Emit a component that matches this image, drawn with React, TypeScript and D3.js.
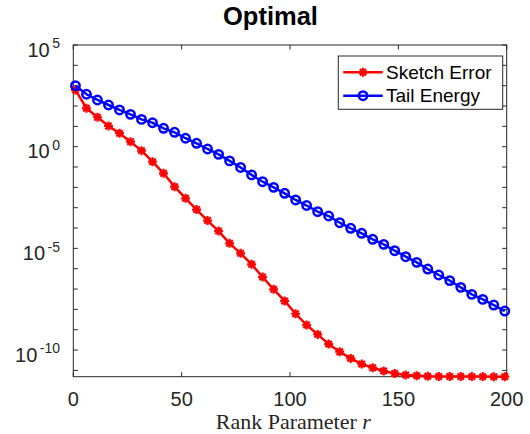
import React from "react";
import * as d3 from "d3";

// ---- data ----
const rankParams: number[] = d3.range(40).map((i) => 1 + i * 5.08);

const sketchError: number[] = [
  6.2e2, 77, 28, 10.4, 4.6, 1.76, 0.64, 0.183, 0.049, 0.0108,
  2.9e-3, 8.1e-4, 2.34e-4, 7.1e-5, 1.77e-5, 5.7e-6, 1.64e-6, 3.9e-7, 9.7e-8, 2.6e-8,
  6.1e-9, 1.7e-9, 5.9e-10, 1.97e-10, 8.3e-11, 3.9e-11, 2.04e-11, 1.35e-11, 9.3e-12, 7.1e-12,
  5.9e-12, 5.5e-12, 5.1e-12, 5.0e-12, 5.0e-12, 5.0e-12, 4.95e-12, 4.95e-12, 4.9e-12, 4.9e-12,
];

const tailEnergy: number[] = [
  1.0e3, 3.78e2, 1.98e2, 1.12e2, 6.4e1, 3.9e1, 2.2e1, 1.5e1, 8.0, 5.1,
  2.6, 1.47, 0.77, 0.42, 0.2, 0.095, 0.041, 0.019, 0.01, 5.1e-3,
  2.4e-3, 1.28e-3, 6.4e-4, 3.9e-4, 1.83e-4, 9.7e-5, 5.5e-5, 2.8e-5, 1.58e-5, 7.7e-6,
  3.9e-6, 2.06e-6, 9.6e-7, 4.9e-7, 2.6e-7, 1.21e-7, 5.5e-8, 3.1e-8, 1.63e-8, 8.3e-9,
];

const xTicks: number[] = [0, 50, 100, 150, 200];
const yLabelExponents: number[] = [5, 0, -5, -10];
const seriesNames: string[] = ["Sketch Error", "Tail Energy"];
const titleText = "Optimal";

const W = 530;
const H = 434;
const left = 73.3;
const right = 506.7;
const top = 45;
const bottom = 376.7;
const axisColor = "#262626";
const sans = "'Liberation Sans', Arial, Helvetica, sans-serif";
const serif = "'Liberation Serif', 'Times New Roman', serif";

const starPath = "M-4.5,0H4.5M0,-4.5V4.5M-3.2,-3.2L3.2,3.2M-3.2,3.2L3.2,-3.2";

export default function App() {
  const yMin = d3.min(sketchError.concat(tailEnergy)) as number;
  const x = d3.scaleLinear().domain([0, 200]).range([left, right]);
  const y = d3.scaleLog().domain([yMin, 1e5]).range([bottom, top]);

  const line = d3
    .line<number>()
    .x((_, i) => x(rankParams[i]))
    .y((d) => y(d));

  const decades = d3.range(-11, 6).filter((e) => Math.pow(10, e) >= yMin);
  const tickLen = 4.5;

  return (
    <svg
      width={W}
      height={H}
      style={{ position: "absolute", left: 0, top: 0, background: "#fff" }}
    >
      <rect x={0} y={0} width={W} height={H} fill="#fff" />
      {/* title */}
      <text
        x={270.5}
        y={25}
        textAnchor="middle"
        fontFamily={sans}
        fontWeight="bold"
        fontSize={25.5}
        fill="#000"
      >
        {titleText}
      </text>

      {/* frame */}
      <rect
        x={left}
        y={top}
        width={right - left}
        height={bottom - top}
        fill="none"
        stroke={axisColor}
        strokeWidth={1}
      />

      {/* x ticks */}
      {xTicks.map((t) => (
        <g key={"xt" + t}>
          <line x1={x(t)} x2={x(t)} y1={bottom} y2={bottom - tickLen} stroke={axisColor} />
          <line x1={x(t)} x2={x(t)} y1={top} y2={top + tickLen} stroke={axisColor} />
          <text
            x={x(t)}
            y={405.5}
            textAnchor="middle"
            fontFamily={sans}
            fontSize={20}
            fill="#262626"
          >
            {t}
          </text>
        </g>
      ))}

      {/* y ticks */}
      {decades.map((e) => {
        const yy = y(Math.pow(10, e));
        return (
          <g key={"yt" + e}>
            <line x1={left} x2={left + tickLen} y1={yy} y2={yy} stroke={axisColor} />
            <line x1={right} x2={right - tickLen} y1={yy} y2={yy} stroke={axisColor} />
          </g>
        );
      })}
      {yLabelExponents.map((e) => {
        const yy = y(Math.pow(10, e));
        return (
          <text
            key={"yl" + e}
            x={60}
            y={yy + 11.7}
            textAnchor="end"
            fontFamily={sans}
            fontSize={20}
            fill="#262626"
          >
            <tspan>10</tspan>
            <tspan dx={2.5} dy={-8.4} fontSize={14}>
              {String(e)}
            </tspan>
          </text>
        );
      })}

      {/* x label */}
      <text
        x={293.3}
        y={429}
        textAnchor="middle"
        fontFamily={serif}
        fontSize={22}
        fill="#262626"
      >
        Rank Parameter <tspan fontStyle="italic">r</tspan>
      </text>

      {/* series */}
      <path d={line(sketchError) || ""} fill="none" stroke="#ff0000" strokeWidth={2.5} />
      {sketchError.map((v, i) => (
        <path
          key={"se" + i}
          d={starPath}
          transform={`translate(${x(rankParams[i])},${y(v)})`}
          stroke="#ff0000"
          strokeWidth={2.2}
          fill="none"
        />
      ))}
      <path d={line(tailEnergy) || ""} fill="none" stroke="#0000ff" strokeWidth={2.5} />
      {tailEnergy.map((v, i) => (
        <circle
          key={"te" + i}
          cx={x(rankParams[i])}
          cy={y(v)}
          r={4.2}
          stroke="#0000ff"
          strokeWidth={2.5}
          fill="none"
        />
      ))}

      {/* legend */}
      <rect
        x={338.3}
        y={56}
        width={164.4}
        height={53.3}
        fill="#fff"
        stroke={axisColor}
        strokeWidth={1}
      />
      <line x1={343.3} x2={382.7} y1={72.3} y2={72.3} stroke="#ff0000" strokeWidth={2.5} />
      <path d={starPath} transform="translate(363,72.3)" stroke="#ff0000" strokeWidth={2.2} fill="none" />
      <text x={386} y={78.5} fontFamily={sans} fontSize={19} fill="#000">
        {seriesNames[0]}
      </text>
      <line x1={343.3} x2={382.7} y1={95.7} y2={95.7} stroke="#0000ff" strokeWidth={2.5} />
      <circle cx={363} cy={95.7} r={4.2} stroke="#0000ff" strokeWidth={2.5} fill="none" />
      <text x={386} y={102} fontFamily={sans} fontSize={19} fill="#000">
        {seriesNames[1]}
      </text>
    </svg>
  );
}
